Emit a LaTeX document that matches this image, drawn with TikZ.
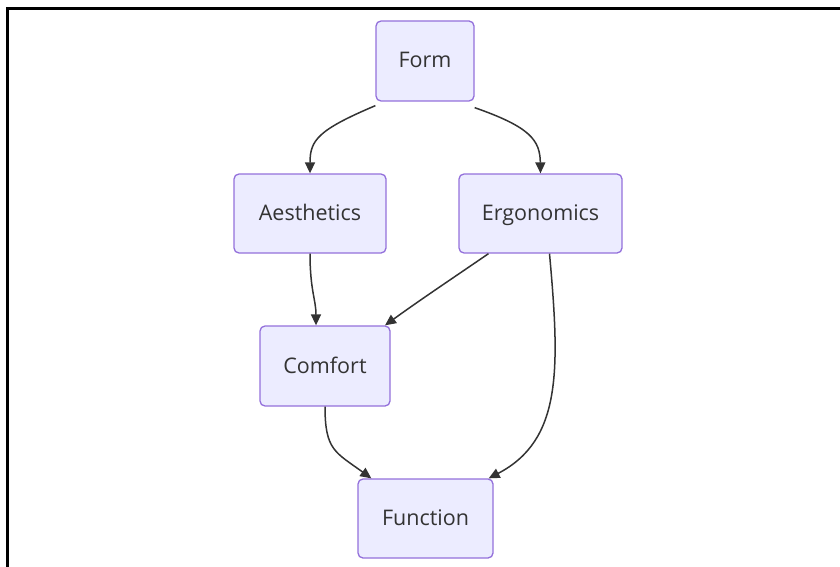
\documentclass[tikz,border=0pt]{standalone}
\usepackage{fontspec}
\setmainfont{Open Sans}
\usetikzlibrary{arrows.meta}
\definecolor{nodefill}{HTML}{ECECFF}
\definecolor{nodeline}{HTML}{9370DB}
\definecolor{ink}{HTML}{333333}
\tikzset{
  box/.style={draw=nodeline, fill=nodefill, line width=1.3pt, rounded corners=5pt,
    text=ink, font=\fontsize{21.5}{24}\selectfont, inner sep=0pt, anchor=center,
    text height=15.5pt, text depth=1.5pt},
  edge/.style={draw=ink, line width=1.5pt, -{Triangle[length=11pt,width=10pt]}},
  frame/.style={draw=black, line width=3pt}
}
\begin{document}
\begin{tikzpicture}[x=1pt,y=-1pt]
\useasboundingbox (0,0) rectangle (840,567);
\draw[frame] (7.5,567) -- (7.5,8.5) -- (840,8.5);
\node[box, minimum width=98pt, minimum height=80pt] (Form) at (425,61) {Form};
\node[box, minimum width=152pt, minimum height=79pt] (Aes) at (310,213.5) {Aesthetics};
\node[box, minimum width=163pt, minimum height=79pt] (Erg) at (540.5,213.5) {Ergonomics};
\node[box, minimum width=130pt, minimum height=80pt] (Com) at (325,366) {Comfort};
\node[box, minimum width=135pt, minimum height=79pt] (Fun) at (425.5,518.5) {Function};
\draw[edge] ([yshift=-4pt]Form.south west) .. controls (318,130) and (310,140) .. (Aes.north);
\draw[edge] ([yshift=-6pt]Form.south east) .. controls (530,127) and (540,140) .. (Erg.north);
\draw[edge] (Aes.south) .. controls (310,290) and (316,300) .. ([xshift=-9pt]Com.north);
\draw[edge] ([xshift=-52pt]Erg.south) .. controls (450,280) and (420,300) .. ([xshift=60pt]Com.north);
\draw[edge] ([xshift=9pt]Erg.south) .. controls (560,370) and (562,440) .. ([xshift=-5pt]Fun.north east);
\draw[edge] (Com.south) .. controls (325,450) and (335,452) .. ([xshift=14pt]Fun.north west);
\end{tikzpicture}
\end{document}
